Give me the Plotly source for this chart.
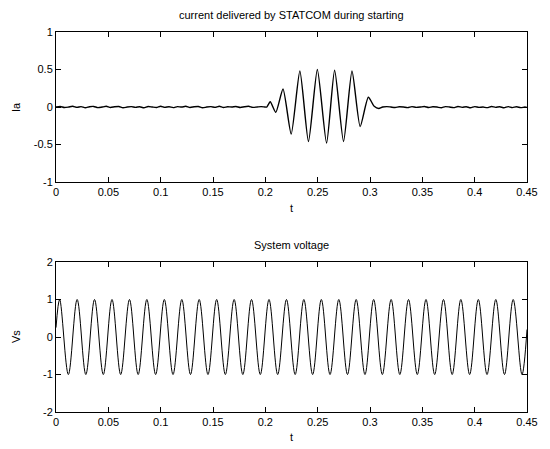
import plotly.graph_objects as go

#########
# Data  #
#########

# STATCOM current: quiet part before 0.2 s (small ripple), burst, quiet part after 0.31 s
ia_quiet_before_t = [0.000, 0.004, 0.008, 0.012, 0.016, 0.020, 0.024, 0.028, 0.032, 0.036,
                     0.040, 0.044, 0.048, 0.052, 0.056, 0.060, 0.064, 0.068, 0.072, 0.076,
                     0.080, 0.084, 0.088, 0.092, 0.096, 0.100, 0.104, 0.108, 0.112, 0.116,
                     0.120, 0.124, 0.128, 0.132, 0.136, 0.140, 0.144, 0.148, 0.152, 0.156,
                     0.160, 0.164, 0.168, 0.172, 0.176, 0.180, 0.184, 0.188, 0.192, 0.196, 0.200]
ia_quiet_before = [0.00, 0.008, -0.006, 0.00, 0.01, -0.004, 0.006, -0.01, 0.004, 0.008,
                   -0.008, 0.00, 0.01, -0.006, 0.004, 0.008, -0.01, 0.00, 0.006, -0.004,
                   0.004, -0.01, 0.008, 0.00, -0.006, 0.01, -0.004, 0.004, -0.008, 0.006,
                   0.00, 0.01, -0.006, 0.004, 0.008, -0.01, 0.00, 0.006, -0.004, 0.01,
                   -0.006, 0.004, 0.00, 0.008, -0.006, 0.004, 0.01, -0.004, 0.00, 0.006, 0.00]

ia_burst_t = [0.2013, 0.2047, 0.2100, 0.2169, 0.2247, 0.2330, 0.2412, 0.2497, 0.2585,
              0.2662, 0.2747, 0.2828, 0.2906, 0.2984, 0.3040, 0.3084]
ia_burst = [0.00, 0.07, -0.07, 0.24, -0.36, 0.48, -0.46, 0.50, -0.48,
            0.49, -0.46, 0.48, -0.26, 0.13, 0.01, -0.02]

ia_quiet_after_t = [0.312, 0.316, 0.320, 0.324, 0.328, 0.332, 0.336, 0.340, 0.344, 0.348,
                    0.352, 0.356, 0.360, 0.364, 0.368, 0.372, 0.376, 0.380, 0.384, 0.388,
                    0.392, 0.396, 0.400, 0.404, 0.408, 0.412, 0.416, 0.420, 0.424, 0.428,
                    0.432, 0.436, 0.440, 0.444, 0.448, 0.450]
ia_quiet_after = [0.00, 0.006, 0.00, -0.006, 0.004, 0.00, -0.008, 0.006, -0.004, 0.00,
                  0.008, -0.006, 0.004, 0.00, -0.01, 0.006, 0.00, -0.008, 0.008, -0.004,
                  0.004, -0.01, 0.006, -0.004, 0.00, -0.008, 0.008, -0.004, 0.004, -0.01,
                  0.006, -0.008, 0.004, -0.008, 0.00, -0.004]

# System voltage: start, peaks/troughs, end
vs_t = [0.0000, 0.0035, 0.0118, 0.0202, 0.0285, 0.0368, 0.0452, 0.0535, 0.0618, 0.0702,
        0.0785, 0.0868, 0.0952, 0.1035, 0.1118, 0.1202, 0.1285, 0.1368, 0.1452, 0.1535,
        0.1618, 0.1702, 0.1785, 0.1868, 0.1952, 0.2035, 0.2118, 0.2202, 0.2285, 0.2368,
        0.2452, 0.2535, 0.2618, 0.2702, 0.2785, 0.2868, 0.2952, 0.3035, 0.3118, 0.3202,
        0.3285, 0.3368, 0.3452, 0.3535, 0.3618, 0.3702, 0.3785, 0.3868, 0.3952, 0.4035,
        0.4118, 0.4202, 0.4285, 0.4368, 0.4452, 0.4500]
vs = [0.25, 1, -1, 1, -1, 1, -1, 1, -1, 1,
      -1, 1, -1, 1, -1, 1, -1, 1, -1, 1,
      -1, 1, -1, 1, -1, 1, -1, 1, -1, 1,
      -1, 1, -1, 1, -1, 1, -1, 1, -1, 1,
      -1, 1, -1, 1, -1, 1, -1, 1, -1, 1,
      -1, 1, -1, 1, -1, 0.2]

x_ticks = [0, 0.05, 0.1, 0.15, 0.2, 0.25, 0.3, 0.35, 0.4, 0.45]
x_tick_labels = ["0", "0.05", "0.1", "0.15", "0.2", "0.25", "0.3", "0.35", "0.4", "0.45"]
ia_ticks = [-1, -0.5, 0, 0.5, 1]
ia_tick_labels = ["-1", "-0.5", "0", "0.5", "1"]
vs_ticks = [-2, -1, 0, 1, 2]
vs_tick_labels = ["-2", "-1", "0", "1", "2"]

##########
# Traces #
##########

font_family = "Liberation Sans, Arial, sans-serif"

ia_t = ia_quiet_before_t + ia_burst_t + ia_quiet_after_t
ia = ia_quiet_before + ia_burst + ia_quiet_after

plot_data = [
    go.Scatter(
        x=ia_t, y=ia,
        mode="lines",
        line={"color": "black", "width": 1.4, "shape": "spline", "smoothing": 0.6},
        xaxis="x", yaxis="y",
        showlegend=False
    ),
    go.Scatter(
        x=vs_t, y=vs,
        mode="lines",
        line={"color": "black", "width": 1, "shape": "spline", "smoothing": 1},
        xaxis="x2", yaxis="y2",
        showlegend=False
    )
]

##########
# Layout #
##########

common_axis = {
    "showline": True,
    "linecolor": "black",
    "linewidth": 1,
    "mirror": "ticks",
    "ticks": "inside",
    "ticklen": 5,
    "tickcolor": "black",
    "showgrid": False,
    "zeroline": False,
    "tickfont": {"size": 11, "color": "black", "family": font_family},
}

x_axis = dict(common_axis, range=[0, 0.45], tickvals=x_ticks, ticktext=x_tick_labels)

# page body has an 8px margin, so the figure is 8px smaller than the window
layout = go.Layout(
    width=542,
    height=441,
    paper_bgcolor="white",
    plot_bgcolor="white",
    margin={"l": 48, "r": 15, "t": 24, "b": 37},
    font={"family": font_family, "color": "black", "size": 11},
    xaxis=dict(x_axis, domain=[0, 1], anchor="y"),
    yaxis=dict(common_axis, domain=[0.605, 1.0], anchor="x", range=[-1, 1],
               tickvals=ia_ticks, ticktext=ia_tick_labels),
    xaxis2=dict(x_axis, domain=[0, 1], anchor="y2"),
    yaxis2=dict(common_axis, domain=[0, 0.3947], anchor="x2", range=[-2, 2],
                tickvals=vs_ticks, ticktext=vs_tick_labels),
    annotations=[
        {"text": "current delivered by STATCOM during starting", "xref": "paper", "yref": "paper",
         "x": 0.5, "y": 1.0, "yshift": 17, "xanchor": "center", "yanchor": "middle",
         "showarrow": False, "font": {"size": 11}},
        {"text": "System voltage", "xref": "paper", "yref": "paper",
         "x": 0.5, "y": 0.3947, "yshift": 17, "xanchor": "center", "yanchor": "middle",
         "showarrow": False, "font": {"size": 11}},
        {"text": "t", "xref": "paper", "yref": "paper",
         "x": 0.5, "y": 0.605, "yshift": -26, "xanchor": "center", "yanchor": "middle",
         "showarrow": False, "font": {"size": 11}},
        {"text": "t", "xref": "paper", "yref": "paper",
         "x": 0.5, "y": 0, "yshift": -25, "xanchor": "center", "yanchor": "middle",
         "showarrow": False, "font": {"size": 11}},
        {"text": "Ia", "xref": "paper", "yref": "paper",
         "x": 0, "xshift": -40, "y": 0.8025, "xanchor": "center", "yanchor": "middle",
         "textangle": -90, "showarrow": False, "font": {"size": 11}},
        {"text": "Vs", "xref": "paper", "yref": "paper",
         "x": 0, "xshift": -40, "y": 0.1974, "xanchor": "center", "yanchor": "middle",
         "textangle": -90, "showarrow": False, "font": {"size": 11}},
    ]
)

fig = go.Figure(plot_data, layout)
fig.write_html("out.html")
